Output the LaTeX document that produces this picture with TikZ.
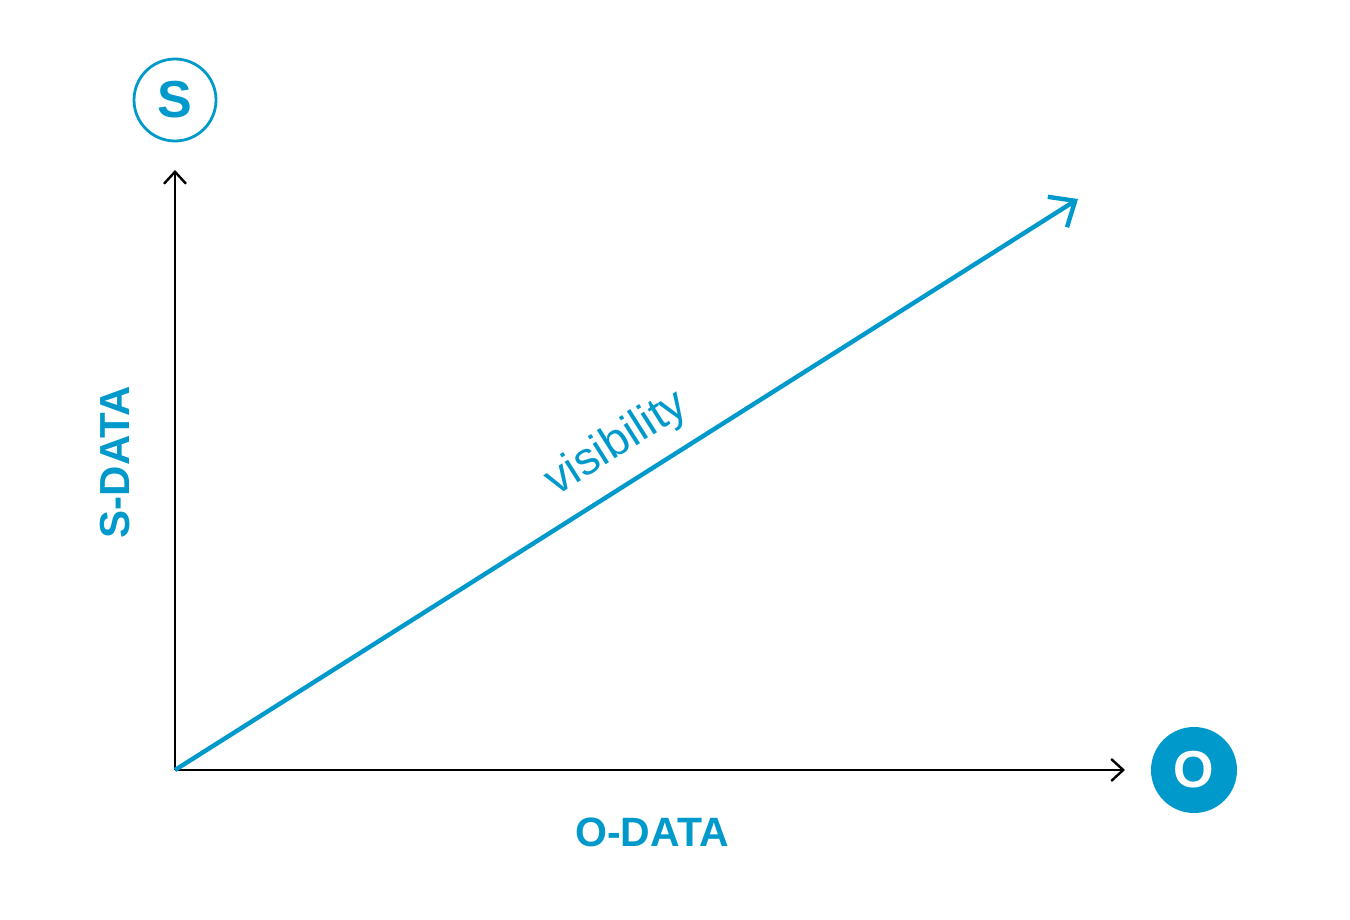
\documentclass[tikz,border=0pt]{standalone}
\usepackage{fontspec}
\setmainfont{Liberation Sans}
\usetikzlibrary{arrows.meta}
\definecolor{vblue}{RGB}{0,153,204}
\begin{document}
\begin{tikzpicture}[x=0.5pt,y=-0.5pt,
  axis/.style={draw=black,line width=1.2pt,-{Straight Barb[length=6pt,width=11pt,line width=1.2pt]}},
  vis/.style={draw=vblue,line width=2.2pt,-{Straight Barb[length=10.5pt,width=18pt,line width=2.2pt]}},
  axlabel/.style={text=vblue,font=\fontsize{20.5}{24}\selectfont\bfseries,inner sep=0pt},
  badge/.style={circle,minimum size=41pt,inner sep=0pt,font=\fontsize{26}{29}\selectfont\bfseries}]
\useasboundingbox (0,0) rectangle (1350,920);
\coordinate (origin) at (175,770);
\coordinate (ytip) at (175,170);
\coordinate (xtip) at (1125,770);
\coordinate (vtip) at (1078,199);
\draw[axis] (origin) -- (ytip);
\draw[axis] (origin) -- (xtip);
\draw[vis] (origin) -- (vtip);
\node[badge,draw=vblue,line width=1.4pt,text=vblue] (S) at (175,100) {S};
\node[badge,fill=vblue,text=white,minimum size=43pt] (O) at (1194,770) {O};
\node[axlabel] (odata) at (652,832) {O-DATA};
\node[axlabel,font=\fontsize{21}{24}\selectfont\bfseries,rotate=90] (sdata) at (115,462) {S-DATA};
\node[text=vblue,font=\fontsize{23}{26}\selectfont,rotate=32.3,inner sep=0pt] (vislabel) at (617,444) {visibility};
\end{tikzpicture}
\end{document}
